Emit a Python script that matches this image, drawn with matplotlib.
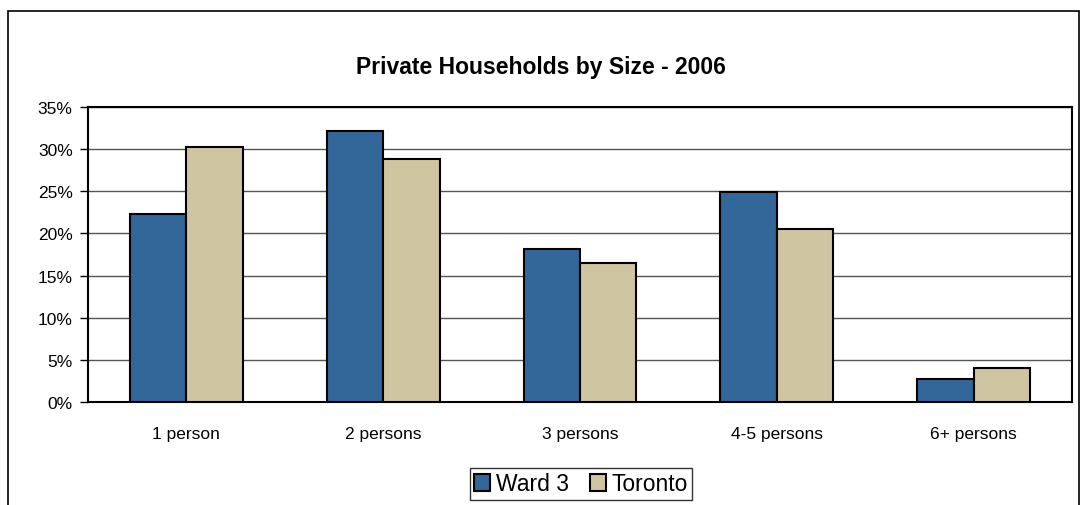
import matplotlib
matplotlib.use("Agg")
import matplotlib.pyplot as plt
import numpy as np
from matplotlib.patches import Rectangle

categories = ["1 person", "2 persons", "3 persons", "4-5 persons", "6+ persons"]
ward3 = [22.3, 32.1, 18.1, 24.9, 2.7]
toronto = [30.2, 28.8, 16.5, 20.5, 4.0]
yticks = [0, 5, 10, 15, 20, 25, 30, 35]
ytick_labels = ["0%", "5%", "10%", "15%", "20%", "25%", "30%", "35%"]

plt.rcParams['font.family'] = ['Liberation Sans', 'DejaVu Sans']

W, H = 1081, 506
fig = plt.figure(figsize=(W / 100, H / 100), dpi=100)
fig.patch.set_facecolor("white")

# outer frame
fig.add_artist(Rectangle((8 / W, -0.05), (1079 - 8) / W, (H - 12) / H + 0.05,
                         transform=fig.transFigure, fill=False, ec="black", lw=1.2))

ax = fig.add_axes([88 / W, 1 - 403 / H, (1072 - 88) / W, (403 - 108) / H])
x = np.arange(len(categories))
bw = 0.287
ax.bar(x - bw / 2, ward3, bw, color="#336699", edgecolor="black", lw=1.5, label="Ward 3", zorder=3)
ax.bar(x + bw / 2, toronto, bw, color="#CFC5A1", edgecolor="black", lw=1.5, label="Toronto", zorder=3)

ax.set_xlim(-0.5, len(categories) - 0.5)
ax.set_ylim(0, 35)
ax.set_yticks(yticks)
ax.set_yticklabels(ytick_labels, fontsize=12.5)
ax.set_xticks(x)
ax.set_xticklabels(categories, fontsize=12.5)
ax.tick_params(axis="x", length=0, pad=17)
ax.tick_params(axis="y", length=6, width=1, pad=5)
ax.yaxis.grid(True, color="#555555", lw=1, zorder=0)
for s in ax.spines.values():
    s.set_linewidth(1.5)
    s.set_color("black")

fig.text(0.5, 1 - 74 / H, "Private Households by Size - 2006", ha="center", va="baseline",
         fontsize=16.5, fontweight="bold")

leg = fig.legend(loc="center", bbox_to_anchor=(581 / W, 1 - 485 / H), ncol=2, fontsize=16.5,
                 frameon=True, fancybox=False, edgecolor="black", handlelength=0.7,
                 handleheight=0.7, handletextpad=0.25, columnspacing=0.9, borderpad=0.2,
                 borderaxespad=0)
leg.get_frame().set_linewidth(1)

fig.savefig("out.png", dpi=100)
